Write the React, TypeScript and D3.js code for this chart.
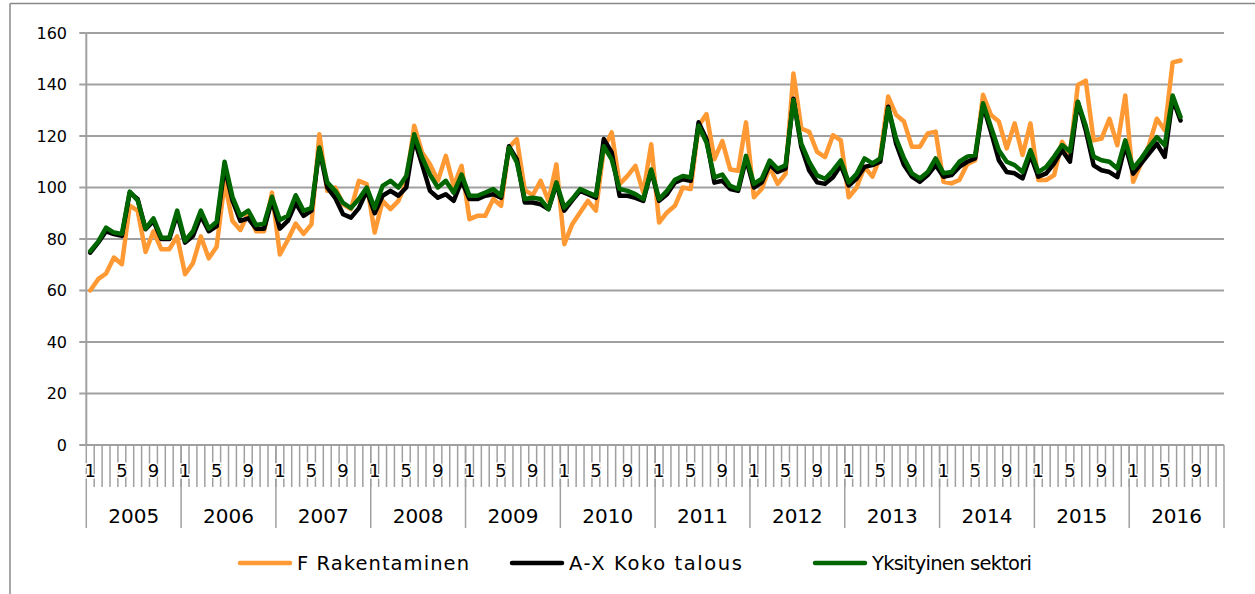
import React from "react";
import * as d3 from "d3";

const years = ["2005", "2006", "2007", "2008", "2009", "2010", "2011", "2012", "2013", "2014", "2015", "2016"];
const monthLabels = ["1", "5", "9"];
const yTicks = [0, 20, 40, 60, 80, 100, 120, 140, 160];

const rakentaminen = [
  60, 64.4, 66.6, 72.8, 70.2, 93, 91, 75, 83, 76, 76, 81,
  66.3, 70.6, 81, 72.5, 77, 102, 87, 83.5, 90, 83, 83, 98,
  74, 79.6, 86, 82, 85.7, 120.7, 98.7, 100, 93.5, 91.6, 102.6, 101.3,
  82.5, 94.8, 91.6, 94.8, 102, 124, 113.6, 109, 102.6, 112.3, 100.6, 108.4,
  87.7, 89, 89, 95.5, 92.9, 115.5, 118.8, 99, 97, 102.6, 94.8, 109,
  78, 85.7, 90.3, 94.8, 91, 115, 121.4, 101.3, 104.5, 108.4, 98, 116.8,
  86.4, 90.3, 92.9, 100, 99.4, 124, 128.5, 111, 118, 107, 106.5, 125.3,
  96.2, 99.5, 107.9, 101.4, 105.3, 144.3, 122.9, 121.6, 113.8, 111.8, 120.3, 118.3,
  96.2, 100, 108, 104.2, 112, 135.3, 128.2, 125.6, 115.8, 115.8, 121, 121.7,
  102.2, 101.6, 102.9, 109, 110.6, 136, 128.2, 125.6, 115.2, 124.9, 112.6, 124.9,
  102.9, 102.9, 104.8, 117.8, 112.6, 139.8, 141.5, 118.3, 119, 126.7, 116.4, 135.7,
  102.2, 109.3, 116.4, 126.7, 122.2, 148.6, 149.3,
];

const kokoTalous = [
  74.7, 78.6, 83, 81.9, 81.2, 98, 95.5, 83.8, 87, 80, 80, 89.6,
  78.6, 81.2, 89, 83, 85, 108, 95, 87, 88, 84, 84, 95,
  84, 87, 94, 89, 91, 115, 100, 96, 89.6, 88.3, 92, 98.7,
  90, 96.8, 98.7, 96.8, 100, 118.8, 109, 98.7, 96, 97.4, 94.8, 102.6,
  95.5, 95.5, 96.8, 97.4, 96, 116, 110.9, 94.2, 94.2, 93.5, 91.6, 101.3,
  91, 95, 98.7, 97.4, 96, 118.8, 113.6, 96.8, 96.8, 96, 94.8, 106.5,
  94.8, 97.4, 101.9, 103.2, 102.6, 125.3, 118.8, 101.9, 102.6, 99.4, 98.7, 111,
  100, 102, 109, 106, 107.3, 134.5, 115.7, 106.6, 102, 101.4, 104, 108.6,
  100.8, 103.5, 108, 108.7, 110, 131.4, 117, 108.7, 104.2, 102.2, 104.8, 108.7,
  104.2, 104.8, 108, 110, 111.3, 132, 121.7, 110.6, 106, 105.5, 103.5, 112.6,
  104.2, 105.5, 109.4, 114.5, 110, 133.2, 122.2, 108.6, 106.7, 106, 104, 116.4,
  105.4, 109.3, 113.2, 117, 111.9, 134.5, 126,
];

const yksityinen = [
  75.3, 79, 84.4, 82.5, 82, 98.4, 95, 84, 88, 80.5, 80.5, 91,
  79.3, 83, 91, 84, 86.7, 110, 96.4, 89, 91, 85.4, 86, 96.4,
  87.4, 89, 97, 91, 92, 115.5, 102, 98.7, 94, 92, 95.5, 100,
  92, 100.6, 102.6, 100, 104.5, 120.7, 111.7, 105, 100, 102.6, 98, 105,
  96.8, 96.8, 98, 99.4, 96.8, 115.5, 109.7, 95.5, 96, 95.5, 91.6, 102,
  92.2, 95.5, 99.4, 98, 96.8, 116, 110.9, 99.4, 98.7, 97.4, 95.5, 107,
  95.5, 98.7, 103, 104.5, 103.9, 124, 117.5, 103.9, 105, 100.6, 99.4, 112.3,
  101.4, 103.4, 110.5, 107.3, 108.6, 134, 117, 109.9, 104.7, 103.4, 106.6, 110.5,
  102, 105.3, 111.3, 109.4, 111.3, 130.8, 119, 111.3, 105.5, 103.5, 106, 111.3,
  105.5, 106, 110, 112, 112.6, 132.7, 123.6, 114.5, 110, 108.7, 106, 114.5,
  106, 108, 112, 116.5, 114, 133.3, 124, 112, 110.6, 110, 107.4, 118.3,
  107.4, 111.2, 115.7, 119.6, 116.4, 135.7, 127.4,
];

const seriesNames = ["F Rakentaminen", "A-X Koko talous", "Yksityinen sektori"];
const seriesColors = ["#FF9933", "#000000", "#006600"];

export default function App() {
  const W = 1255;
  const H = 594;
  const left = 86.3;
  const right = 1224;
  const top = 33;
  const bottom = 445;
  const nMonths = years.length * 12;

  const x = d3.scaleLinear().domain([0, nMonths]).range([left, right]);
  const y = d3.scaleLinear().domain([0, 160]).range([bottom, top]);

  const line = d3
    .line<number>()
    .x((_, i) => x(i + 0.5))
    .y((d) => y(d));

  const allSeries = [rakentaminen, kokoTalous, yksityinen];
  const font = "'DejaVu Sans', Verdana, sans-serif";
  const gridColor = "#a0a0a0";

  const monthTicks = d3.range(1, nMonths);
  const monthLabelItems: { i: number; label: string }[] = [];
  years.forEach((_, yi) => {
    monthLabels.forEach((m) => {
      monthLabelItems.push({ i: yi * 12 + (+m - 1), label: m });
    });
  });

  const legendX = [240, 512, 815];
  const legendTextLen = [172, 173, 160];
  const legendY = 563;

  return (
    <svg
      width={W}
      height={H}
      style={{ position: "absolute", left: 0, top: 0, background: "#fff" }}
      fontFamily={font}
    >
      <rect x={0} y={0} width={W} height={H} fill="#fff" />
      {/* chart frame */}
      <line x1={10} y1={3.5} x2={W} y2={3.5} stroke="#888" strokeWidth={1.5} />
      <line x1={10} y1={3.5} x2={10} y2={H} stroke="#888" strokeWidth={1.5} />

      {/* gridlines */}
      {yTicks.map((t) => (
        <g key={t}>
          <line x1={left} x2={right} y1={y(t)} y2={y(t)} stroke={gridColor} strokeWidth={2} />
          <line x1={left - 7} x2={left} y1={y(t)} y2={y(t)} stroke={gridColor} strokeWidth={2} />
          <text x={67} y={y(t)} textAnchor="end" dominantBaseline="central" fontSize={16} fill="#000">
            {t}
          </text>
        </g>
      ))}
      {/* y axis */}
      <line x1={left} x2={left} y1={top} y2={bottom} stroke={gridColor} strokeWidth={2} />

      {/* month ticks */}
      {monthTicks.map((i) => (
        <line key={i} x1={x(i)} x2={x(i)} y1={bottom} y2={487} stroke={gridColor} strokeWidth={1.5} />
      ))}
      {/* year dividers */}
      {d3.range(0, years.length + 1).map((k) => (
        <line key={k} x1={x(k * 12)} x2={x(k * 12)} y1={bottom} y2={528} stroke={gridColor} strokeWidth={1.5} />
      ))}
      {/* month labels */}
      {monthLabelItems.map((m) => (
        <text
          key={m.i}
          x={x(m.i + 0.5)}
          y={470}
          textAnchor="middle"
          dominantBaseline="central"
          fontSize={18}
          fill="#000"
          stroke="#fff"
          strokeWidth={3}
          paintOrder="stroke"
        >
          {m.label}
        </text>
      ))}
      {/* year labels */}
      {years.map((yr, k) => (
        <text
          key={yr}
          x={x(k * 12 + 6)}
          y={516}
          textAnchor="middle"
          dominantBaseline="central"
          fontSize={20}
          fill="#000"
        >
          {yr}
        </text>
      ))}

      {/* series */}
      {allSeries.map((s, k) => (
        <path
          key={k}
          d={line(s) || ""}
          fill="none"
          stroke={seriesColors[k]}
          strokeWidth={4.5}
          strokeLinejoin="round"
          strokeLinecap="round"
        />
      ))}

      {/* legend */}
      {seriesNames.map((name, k) => (
        <g key={name}>
          <line
            x1={legendX[k]}
            x2={legendX[k] + 50}
            y1={legendY}
            y2={legendY}
            stroke={seriesColors[k]}
            strokeWidth={4.5}
            strokeLinecap="round"
          />
          <text
            x={legendX[k] + 57}
            y={legendY}
            dominantBaseline="central"
            fontSize={19.5}
            fill="#000"
            textLength={legendTextLen[k]}
            lengthAdjust="spacing"
          >
            {name}
          </text>
        </g>
      ))}
    </svg>
  );
}
